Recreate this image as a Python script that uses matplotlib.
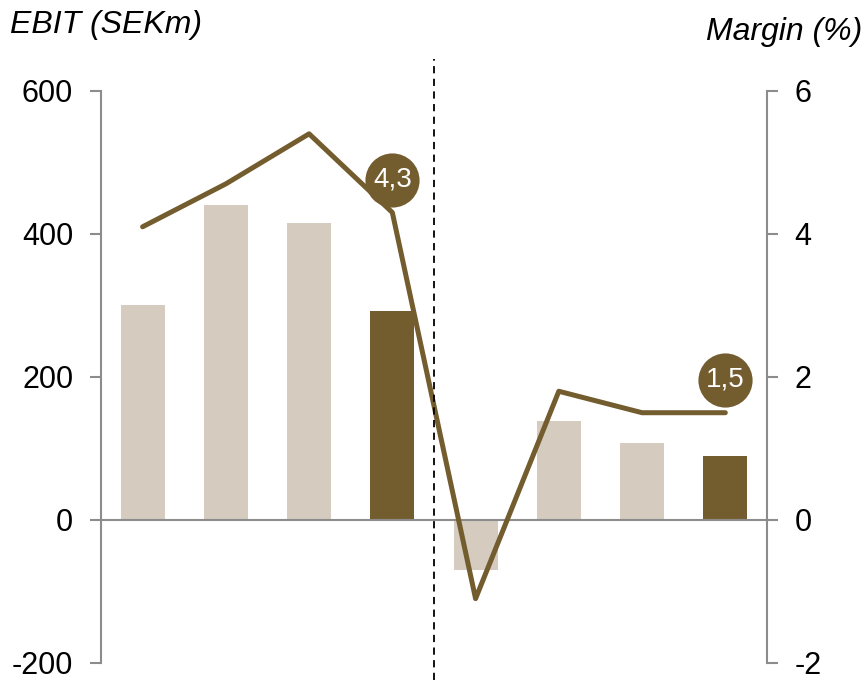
import matplotlib.pyplot as plt

plt.rcParams['font.family'] = ['Liberation Sans', 'DejaVu Sans']
plt.rcParams['axes.unicode_minus'] = False

# Donnees
periodes = [0, 1, 2, 3, 4, 5, 6, 7]
ebit = [300, 440, 415, 292, -70, 138, 108, 90]
marge = [4.1, 4.7, 5.4, 4.3, -1.1, 1.8, 1.5, 1.5]
bar_couleurs = ['#d5cbbf', '#d5cbbf', '#d5cbbf', '#735c2e',
                '#d5cbbf', '#d5cbbf', '#d5cbbf', '#735c2e']
etiquettes = {3: '4,3', 7: '1,5'}

brun = '#735c2e'
gris = '#8c8c8c'

fig = plt.figure(figsize=(8.66, 6.8), dpi=100)
ax = fig.add_axes([0.1166, 0.025, 0.769, 0.8413])
ax2 = ax.twinx()

# Barres EBIT
ax.bar(periodes, ebit, width=0.53, color=bar_couleurs, zorder=1)
ax.axhline(0, color=gris, lw=1.5, zorder=2)
ax.set_xlim(-0.5, 7.5)
ax.set_ylim(-200, 600)
ax.set_yticks([-200, 0, 200, 400, 600])
ax.set_xticks([])

# Courbe de marge
ax2.plot(periodes, marge, color=brun, lw=3.6, solid_joinstyle='round',
         solid_capstyle='round', zorder=3)
ax2.set_ylim(-2, 6)
ax2.set_yticks([-2, 0, 2, 4, 6])

for a in (ax, ax2):
    for s in ['top', 'bottom']:
        a.spines[s].set_visible(False)
    a.spines['left'].set_color(gris)
    a.spines['right'].set_color(gris)
    a.spines['left'].set_linewidth(1.5)
    a.spines['right'].set_linewidth(1.5)
    a.tick_params(axis='y', length=8, width=1.5, color=gris, labelsize=22, pad=12)
ax.spines['right'].set_visible(False)
ax2.spines['left'].set_visible(False)

# Bulles de valeur
for i, txt in etiquettes.items():
    ax2.plot(i, marge[i] + 0.46, 'o', ms=39, color=brun, mec='none', zorder=5)
    ax2.text(i, marge[i] + 0.46, txt, color='white', fontsize=20,
             ha='center', va='center', zorder=6)

# Ligne de separation
ax2.plot([3.5, 3.5], [-0.03, 1.055], transform=ax2.get_xaxis_transform(),
         color='black', lw=1.3, ls=(0, (4, 3)), clip_on=False, zorder=4)

fig.text(0.012, 0.963, 'EBIT (SEKm)', fontsize=23, style='italic',
         ha='left', va='center')
fig.text(0.996, 0.953, 'Margin (%)', fontsize=23, style='italic',
         ha='right', va='center')

plt.savefig('out.png', dpi=100)
